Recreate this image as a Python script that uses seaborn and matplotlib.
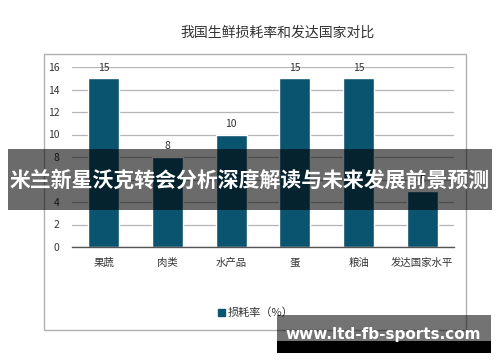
import matplotlib
matplotlib.use("Agg")
import matplotlib.pyplot as plt
import seaborn as sns
import pandas as pd
from matplotlib.patches import Rectangle

categories = ["果蔬", "肉类", "水产品", "蛋", "粮油", "发达国家水平"]
values = [15, 8, 10, 15, 15, 5]
yticks = [0, 2, 4, 6, 8, 10, 12, 14, 16]
title = "我国生鲜损耗率和发达国家对比"
legend_label = "损耗率（%）"
banner = "米兰新星沃克转会分析深度解读与未来发展前景预测"
watermark = "www.ltd-fb-sports.com"

sns.set_theme(style="white")
plt.rcParams['font.family'] = ['Noto Sans CJK SC', 'DejaVu Sans']

W, H = 500, 362
fig = plt.figure(figsize=(W / 100, H / 100), dpi=100)

def fx(px):
    return px / W

def fy(py):
    return 1 - py / H

# outer chart frame
fig.patches.append(Rectangle((fx(44), fy(330)), fx(466) - fx(44), fy(54) - fy(330),
                             transform=fig.transFigure, fill=False, edgecolor="#b0b0b0", lw=1.0, zorder=0))

ax = fig.add_axes([fx(72), fy(247), fx(454) - fx(72), fy(67) - fy(247)])
df = pd.DataFrame({"cat": categories, "val": values})
color = "#0b5470"
sns.barplot(data=df, x="cat", y="val", color=color, width=0.49, ax=ax, saturation=1)
ax.set_xlim(-0.5, 5.5)
ax.set_ylim(0, 16)
ax.set_yticks(yticks)
ax.set_xlabel("")
ax.set_ylabel("")
for s in ["top", "right", "left"]:
    ax.spines[s].set_visible(False)
ax.spines["bottom"].set_color("#555555")
ax.spines["bottom"].set_linewidth(1.0)
ax.yaxis.grid(True, color="#b5b5b5", lw=0.9)
ax.set_axisbelow(True)
ax.tick_params(axis="y", labelsize=7.5, colors="#333333", length=0, pad=9)
ax.tick_params(axis="x", labelsize=7.5, colors="#333333", length=0, pad=8)
for i, v in enumerate(values):
    ax.annotate(str(v), (i, v), xytext=(0, 4), textcoords="offset points",
                ha="center", va="bottom", fontsize=7.5, color="#333333")

fig.text(fx(278), fy(33), title, ha="center", va="center", fontsize=10, color="#333333")

handle = Rectangle((0, 0), 1, 1, color=color)
fig.legend([handle], [legend_label], loc="center", bbox_to_anchor=(fx(256), fy(313)),
           frameon=False, fontsize=8, handlelength=0.6, handleheight=0.6, handletextpad=0.3,
           labelcolor="#333333")

# banner overlay
fig.patches.append(Rectangle((fx(8), fy(210)), fx(492) - fx(8), fy(149) - fy(210),
                             transform=fig.transFigure, facecolor="black", alpha=0.58,
                             edgecolor="none", zorder=10))
fig.text(0.5, fy(180), banner, ha="center", va="center", fontsize=15, fontweight="bold",
         color="white", zorder=11)

# watermark
fig.patches.append(Rectangle((fx(277), fy(341)), fx(491) - fx(277), fy(315) - fy(341),
                             transform=fig.transFigure, facecolor="black", alpha=0.55,
                             edgecolor="none", zorder=10))
fig.patches.append(Rectangle((fx(277), fy(353)), fx(491) - fx(277), fy(341) - fy(353),
                             transform=fig.transFigure, facecolor="black",
                             edgecolor="none", zorder=10))
fig.text(fx(383), fy(335), watermark, ha="center", va="center", fontsize=11, fontweight="bold",
         color="white", family=["DejaVu Sans"], zorder=11)

fig.savefig("out.png", dpi=100)
